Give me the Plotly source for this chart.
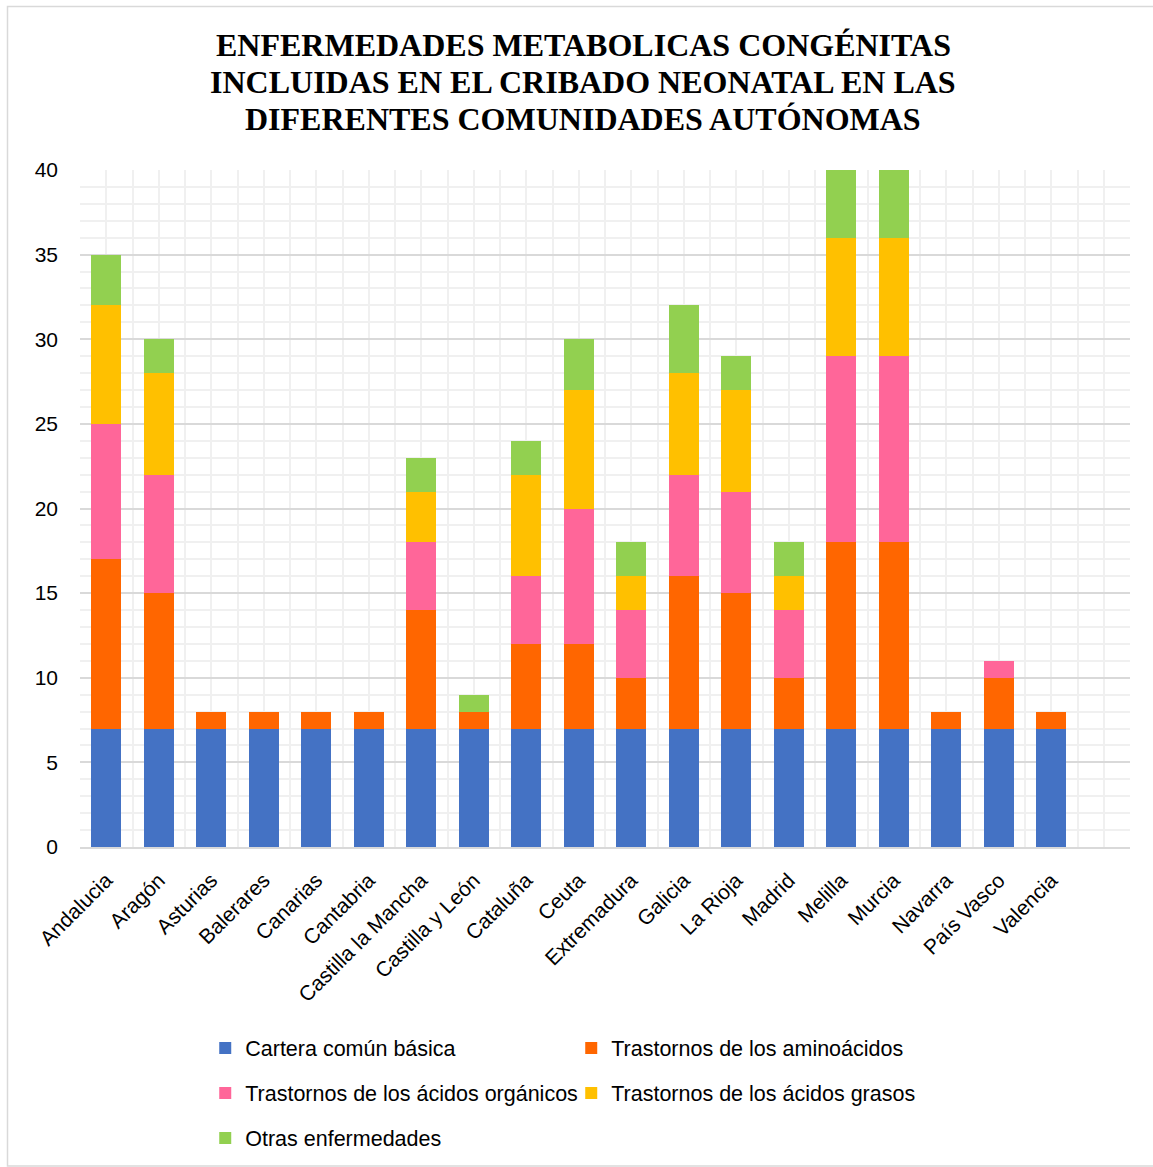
import plotly.graph_objects as go

regions = ["Andalucia", "Aragón", "Asturias", "Balerares", "Canarias", "Cantabria",
           "Castilla la Mancha", "Castilla y León", "Cataluña", "Ceuta", "Extremadura",
           "Galicia", "La Rioja", "Madrid", "Melilla", "Murcia", "Navarra", "País Vasco",
           "Valencia"]

cartera =    [7, 7, 7, 7, 7, 7, 7, 7, 7, 7, 7, 7, 7, 7, 7, 7, 7, 7, 7]
aminoacidos = [10, 8, 1, 1, 1, 1, 7, 1, 5, 5, 3, 9, 8, 3, 11, 11, 1, 3, 1]
organicos =  [8, 7, 0, 0, 0, 0, 4, 0, 4, 8, 4, 6, 6, 4, 11, 11, 0, 1, 0]
grasos =     [7, 6, 0, 0, 0, 0, 3, 0, 6, 7, 2, 6, 6, 2, 7, 7, 0, 0, 0]
otras =      [3, 2, 0, 0, 0, 0, 2, 1, 2, 3, 2, 4, 2, 2, 4, 4, 0, 0, 0]

title_lines = ["ENFERMEDADES METABOLICAS CONGÉNITAS",
               "INCLUIDAS EN EL CRIBADO NEONATAL EN LAS",
               "DIFERENTES COMUNIDADES AUTÓNOMAS"]

series = [
    ("Cartera común básica", cartera, "#4472C4", "legend"),
    ("Trastornos de los aminoácidos", aminoacidos, "#FF6600", "legend"),
    ("Trastornos de los ácidos orgánicos", organicos, "#FF6699", "legend2"),
    ("Trastornos de los ácidos grasos", grasos, "#FFC000", "legend2"),
    ("Otras enfermedades", otras, "#92D050", "legend3"),
]

xpos = list(range(len(regions)))

fig = go.Figure()
for name, vals, color, lg in series:
    fig.add_trace(go.Bar(
        x=xpos, y=vals, name=name, marker=dict(color=color, line=dict(width=0)),
        width=0.57, legend=lg,
    ))

font_family = "Liberation Sans"
legend_common = dict(
    orientation="h", xref="container", yref="container", xanchor="left",
    yanchor="middle", entrywidth=321, entrywidthmode="pixels",
    font=dict(family=font_family, size=21.5, color="#000000"),
    bgcolor="rgba(0,0,0,0)", itemclick=False, traceorder="normal",
)

H_PLOT = 1167 - 170 - 320
annotations = []
for i, line in enumerate(title_lines):
    py = 45 + 37 * i
    annotations.append(dict(
        text=line, xref="paper", yref="paper", x=(583 - 80) / 1050, y=(847 - py) / H_PLOT,
        xanchor="center", yanchor="middle", showarrow=False,
        font=dict(family="Liberation Serif", size=32, color="#000000", weight="bold"),
    ))

fig.update_layout(
    width=1153, height=1167,
    margin=dict(l=80, r=23, t=170, b=320),
    paper_bgcolor="white", plot_bgcolor="white",
    barmode="stack",
    annotations=annotations,
    legend=dict(x=0.178, y=1 - 1048 / 1167, **legend_common),
    legend2=dict(x=0.178, y=1 - 1093 / 1167, **legend_common),
    legend3=dict(x=0.178, y=1 - 1138 / 1167, **legend_common),
    xaxis=dict(
        range=[-0.5, 19.5], tickmode="array", tickvals=xpos, ticktext=regions,
        tickangle=-45, tickfont=dict(family=font_family, size=21, color="#000000"),
        showgrid=True, gridcolor="#F0F0F0", gridwidth=1.5,
        minor=dict(dtick=0.5, tick0=-0.5, showgrid=True, gridcolor="#F0F0F0", gridwidth=1.5),
        showline=True, linecolor="#D9D9D9", linewidth=1.5,
        ticks="", zeroline=False, ticklabelstandoff=11, fixedrange=True,
    ),
    yaxis=dict(
        range=[0, 40], dtick=5, tick0=0,
        tickfont=dict(family=font_family, size=21, color="#000000"),
        showgrid=True, gridcolor="#D9D9D9", gridwidth=1.5,
        minor=dict(dtick=1, showgrid=True, gridcolor="#F0F0F0", gridwidth=1.5),
        showline=False, zeroline=False, ticks="", ticklabelstandoff=21,
        fixedrange=True,
    ),
    shapes=[dict(
        type="rect", xref="paper", yref="paper",
        x0=(7.5 - 80) / 1050, x1=1.2, y0=(847 - 1166) / H_PLOT, y1=(847 - 6.5) / H_PLOT,
        line=dict(color="#D9D9D9", width=1.5), fillcolor="rgba(0,0,0,0)", layer="below",
    )],
)

fig.write_html("out.html")
